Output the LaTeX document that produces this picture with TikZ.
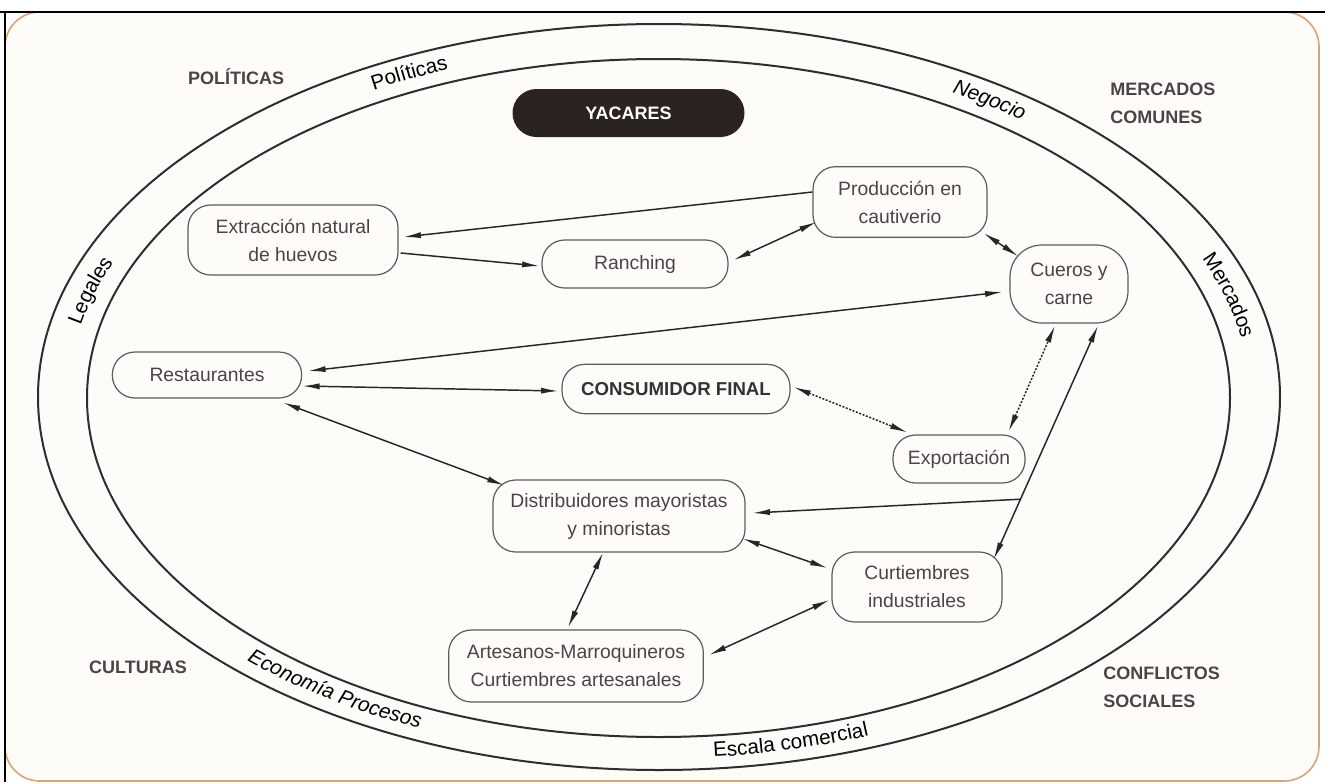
\documentclass[tikz,border=0pt]{standalone}
\usepackage{fontspec}
\setmainfont{Liberation Sans}
\usetikzlibrary{arrows.meta,calc,decorations.text}
\definecolor{txt}{HTML}{4A4446}
\definecolor{edgec}{HTML}{5C5C5C}
\definecolor{ringc}{HTML}{2E2E2E}
\definecolor{frameor}{HTML}{D8A47C}
\definecolor{paper}{HTML}{FDFCF8}
\definecolor{yacc}{HTML}{2B2322}
\newcommand\ringfont{\fontsize{15.5}{18}\selectfont}
\newcommand\ringit{\fontsize{15.5}{18}\selectfont\itshape}
\begin{document}
\begin{tikzpicture}[x=0.75pt,y=0.75pt,
  box/.style={draw=edgec, line width=0.9pt, rounded corners=17pt, inner sep=0pt, align=center, text=txt, font=\fontsize{14.5}{21}\selectfont, fill=paper},
  corner/.style={text=txt, font=\bfseries\fontsize{13.5}{21}\selectfont, align=left, inner sep=0pt},
  arr/.style={draw=black!85, line width=1.1pt},
  tips/.style={{Latex[length=13pt,width=4.6pt]}-{Latex[length=13pt,width=4.6pt]}},
  tip/.style={-{Latex[length=13pt,width=4.6pt]}},
  ringtext/.style={decorate, decoration={text along path, text align=center, raise=-4pt, text={#1}}}
]
\useasboundingbox (0,0) rectangle (1325,-782);
\fill[white] (0,0) rectangle (1325,-782);
\draw[frameor, line width=1.2pt, fill=paper, rounded corners=26pt] (5,-12) rectangle (1319,-781);
\draw[black, line width=1.6pt] (0,-12) -- (1325,-12);
\draw[black, line width=1.6pt] (5,-12) -- (5,-782);

% rings
\draw[ringc, line width=1.5pt] (659,-397) ellipse [x radius=621, y radius=373];
\draw[ringc, line width=1.5pt] (658.5,-398) ellipse [x radius=571.5, y radius=339];

% ring labels
\path[ringtext={|\ringfont|Políticas}] (659,-397) ++(125:596 and 356) arc[start angle=125,end angle=105,x radius=596,y radius=356];
\path[ringtext={|\ringit|Negocio}] (659,-397) ++(66:596 and 356) arc[start angle=66,end angle=46,x radius=596,y radius=356];
\path[ringtext={|\ringfont|Mercados}] (659,-397) ++(30:596 and 356) arc[start angle=30,end angle=2,x radius=596,y radius=356];
\path[ringtext={|\ringfont|Legales}] (659,-397) ++(173:596 and 356) arc[start angle=173,end angle=153,x radius=596,y radius=356];
\path[ringtext={|\ringit|Economía Procesos}] (659,-397) ++(215:596 and 356) arc[start angle=215,end angle=256,x radius=596,y radius=356];
\path[ringtext={|\ringfont|Escala comercial}] (659,-397) ++(270:596 and 356) arc[start angle=270,end angle=296,x radius=596,y radius=356];

% corner labels
\node[corner] (pol) at (236,-77) {POLÍTICAS};
\node[corner, anchor=west] (merc) at (1110,-103) {MERCADOS\\COMUNES};
\node[corner] (cult) at (138,-667) {CULTURAS};
\node[corner, anchor=west] (conf) at (1103,-687) {CONFLICTOS\\SOCIALES};

% title
\node[fill=yacc, rounded corners=18pt, minimum width=174pt, minimum height=36pt, inner sep=0pt, text=white, font=\bfseries\fontsize{13.5}{16}\selectfont] (yac) at (628.5,-113) {YACARES};

% nodes
\node[box, minimum width=157.5pt, minimum height=52.5pt] (ext) at (293,-240) {Extracción natural\\de huevos};
\node[box, minimum width=139.5pt, minimum height=36pt] (ran) at (635,-264) {Ranching};
\node[box, minimum width=130.5pt, minimum height=53pt] (prod) at (900,-202) {Producción en\\cautiverio};
\node[box, minimum width=88.5pt, minimum height=58.5pt, rounded corners=24pt] (cue) at (1069,-284) {Cueros y\\carne};
\node[box, minimum width=142pt, minimum height=34.5pt] (rest) at (207,-375) {Restaurantes};
\node[box, minimum width=171pt, minimum height=37pt, text=black!80, font=\bfseries\fontsize{14}{17}\selectfont] (cons) at (676,-389) {CONSUMIDOR FINAL};
\node[box, minimum width=99pt, minimum height=36pt] (exp) at (959,-459) {Exportación};
\node[box, minimum width=189pt, minimum height=54pt] (dist) at (619,-516) {Distribuidores mayoristas\\y minoristas};
\node[box, minimum width=127.5pt, minimum height=52.5pt] (curt) at (917,-587) {Curtiembres\\industriales};
\node[box, minimum width=191pt, minimum height=54pt] (art) at (576,-666) {Artesanos-Marroquineros\\Curtiembres artesanales};

% connectors
\draw[arr, tip] ([shift={(0,10)}]prod.west) -- ([shift={(5,3)}]ext.east);
\draw[arr, tip] ([shift={(2,-13)}]ext.east) -- ([shift={(-2,-2)}]ran.west);
\draw[arr, tips] ([shift={(5,4)}]ran.east) -- ([shift={(4,-20)}]prod.west);
\draw[arr, tips] ([shift={(-4,-31)}]prod.east) -- ([shift={(9,-12)}]cue.north west);
\draw[arr, tips] ([shift={(-7,-8)}]cue.west) -- ([shift={(6,4)}]rest.east);
\draw[arr, tips] ([shift={(0,-11)}]rest.east) -- ([shift={(-3,-2)}]cons.west);
\draw[arr, tips] ([shift={(76,-4)}]rest.south) -- ([shift={(12,-6)}]dist.north west);
\draw[arr, tips, dash pattern=on 1.5pt off 1.2pt] ([shift={(3,2)}]cons.east) -- ([shift={(15,2)}]exp.north west);
\draw[arr, tips, dash pattern=on 1.5pt off 1.2pt] ([shift={(-17,3)}]exp.north east) -- ([shift={(-14,-2)}]cue.south);
\coordinate (ca) at ([shift={(-9,-8)}]curt.north east);
\coordinate (cb) at ([shift={(29,-2)}]cue.south);
\coordinate (br) at ($(ca)!0.2575!(cb)$);
\draw[arr, tips] (ca) -- (cb);
\draw[arr, tip] (br) -- ([shift={(7,3)}]dist.east);
\draw[arr, tips] ([shift={(-3,14)}]dist.south east) -- ([shift={(-4,19)}]curt.west);
\draw[arr, tips] ([shift={(-16,0)}]dist.south) -- ([shift={(-8,2)}]art.north);
\draw[arr, tips] ([shift={(5,11)}]art.east) -- ([shift={(-2,-13)}]curt.west);
\end{tikzpicture}
\end{document}
